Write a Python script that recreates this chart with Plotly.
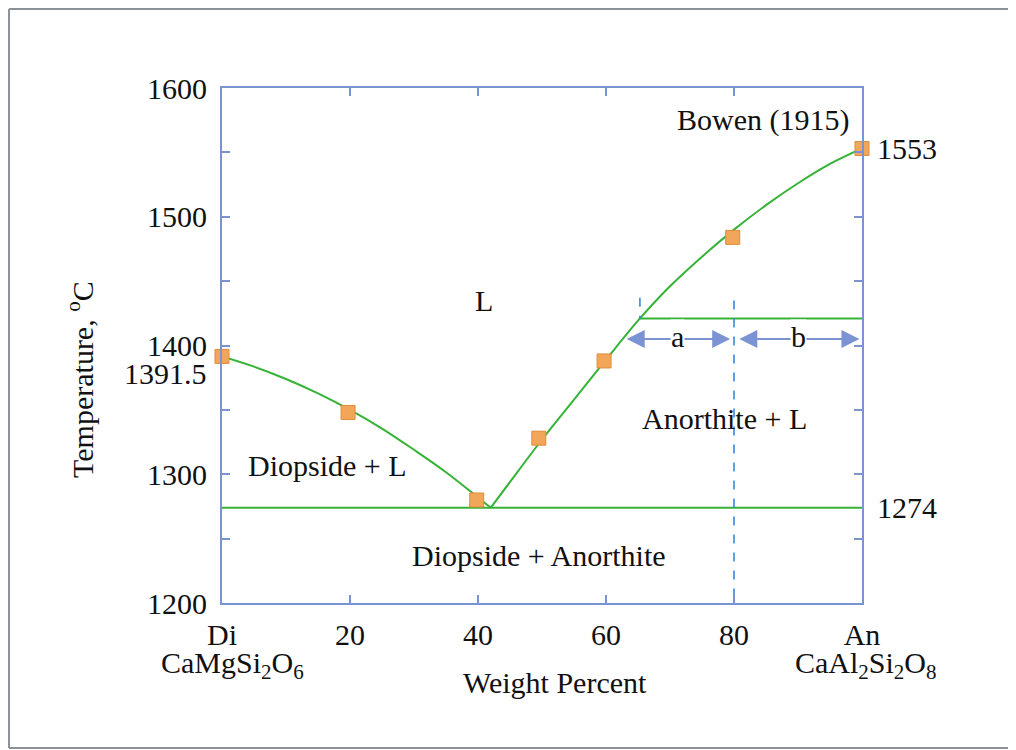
import plotly.graph_objects as go

# ---- data ----
exp_x = [0, 19.7, 39.8, 49.5, 59.7, 79.8, 100]
exp_y = [1391.5, 1348, 1280, 1328, 1388, 1484, 1553]

liq_di_x = [0, 5, 10, 15, 20, 25, 30, 35, 40, 42]
liq_di_y = [1391.5, 1383.6, 1374.0, 1362.8, 1350, 1335.5, 1319, 1301.6, 1282, 1274]

liq_an_x = [42, 45, 50, 55, 60, 65.3, 70, 75, 80, 85, 90, 95, 100]
liq_an_y = [1274, 1294, 1327, 1358, 1389, 1421, 1446, 1469, 1490, 1509, 1526, 1541, 1553]

eutectic_T = 1274
eut_x = [0, 100]
tie_x = [65.3, 100]
tie_T = 1421
bulk_x = 80
dash_bulk_y = [1435, 1200]
dash_tie_y = [1437, 1421]

x_tickvals = [0, 20, 40, 60, 80, 100]
x_ticktext = ["Di", "20", "40", "60", "80", "An"]
formulas = ["CaMgSi<sub>2</sub>O<sub>6</sub>", "CaAl<sub>2</sub>Si<sub>2</sub>O<sub>8</sub>"]
y_tickvals = [1200, 1250, 1300, 1350, 1400, 1450, 1500, 1550, 1600]
y_ticktext = ["1200", "", "1300", "", "1400", "", "1500", "", "1600"]

FONT = "Liberation Serif, Times New Roman, serif"
FS = 30
GREEN = "#36b336"
AXC = "#7b93d3"
DASHC = "#2f7fd8"
ORANGE = "#f2a65a"
TXT = "#111111"

fig = go.Figure()
fig.add_trace(go.Scatter(x=eut_x, y=[eutectic_T, eutectic_T], mode="lines",
                         line=dict(color=GREEN, width=2), hoverinfo="skip"))
fig.add_trace(go.Scatter(x=tie_x, y=[tie_T, tie_T], mode="lines",
                         line=dict(color=GREEN, width=2), hoverinfo="skip"))
fig.add_trace(go.Scatter(x=liq_di_x, y=liq_di_y, mode="lines", line_shape="spline",
                         line=dict(color=GREEN, width=2), hoverinfo="skip"))
fig.add_trace(go.Scatter(x=liq_an_x, y=liq_an_y, mode="lines", line_shape="spline",
                         line=dict(color=GREEN, width=2), hoverinfo="skip"))
fig.add_trace(go.Scatter(x=[bulk_x, bulk_x], y=dash_bulk_y, mode="lines",
                         line=dict(color=DASHC, width=1.5, dash="dash"), hoverinfo="skip"))
fig.add_trace(go.Scatter(x=[tie_x[0], tie_x[0]], y=dash_tie_y, mode="lines",
                         line=dict(color=DASHC, width=1.5, dash="dash"), hoverinfo="skip"))
fig.add_trace(go.Scatter(x=exp_x, y=exp_y, mode="markers", cliponaxis=False,
                         marker=dict(symbol="square", size=14, color=ORANGE,
                                     line=dict(color="#e08c38", width=1))))

arrow_y = 1405
arrow_a = [63.0, 79.4]
arrow_b = [80.6, 99.6]
for (x0, x1), lab in [(arrow_a, "a"), (arrow_b, "b")]:
    fig.add_annotation(x=x1, y=arrow_y, ax=x0, ay=arrow_y, xref="x", yref="y",
                       axref="x", ayref="y", text="", showarrow=True,
                       arrowside="end+start", arrowhead=2, arrowsize=1.8,
                       arrowwidth=2, arrowcolor=AXC)
    fig.add_annotation(x=(x0 + x1) / 2, y=arrow_y, text=lab, showarrow=False,
                       bgcolor="white", font=dict(family=FONT, size=FS, color=TXT),
                       borderpad=0, yshift=3)

def label(x, y, text, **kw):
    fig.add_annotation(x=x, y=y, text=text, showarrow=False,
                       font=dict(family=FONT, size=FS, color=TXT), **kw)

label(84.5, 1575, "Bowen (1915)")
label(41, 1435, "L")
label(78.5, 1343, "Anorthite + L")
label(16.5, 1307, "Diopside + L")
label(49.5, 1237, "Diopside + Anorthite")
label(0, 1391.5, "1391.5", xanchor="right", xshift=-13, yshift=-17)
label(100, 1553, "1553", xanchor="left", xshift=13)
label(100, eutectic_T, "1274", xanchor="left", xshift=13)
fig.add_annotation(x=0, y=-0.1204, xref="x", yref="paper", text=formulas[0],
                   showarrow=False, xshift=10, yanchor="middle",
                   font=dict(family=FONT, size=FS, color=TXT))
fig.add_annotation(x=100, y=-0.1204, xref="x", yref="paper", text=formulas[1],
                   showarrow=False, xshift=4, yanchor="middle",
                   font=dict(family=FONT, size=FS, color=TXT))
fig.add_annotation(x=0.52, y=-0.1534, xref="paper", yref="paper", text="Weight Percent",
                   showarrow=False, yanchor="middle",
                   font=dict(family=FONT, size=FS, color=TXT))
fig.add_annotation(x=-0.2219, y=0.435, xref="paper", yref="paper",
                   text="Temperature, <sup>o</sup>C", textangle=-90,
                   showarrow=False, xanchor="center", yanchor="middle",
                   font=dict(family=FONT, size=FS, color=TXT))

# outer frame (left, top, bottom edges; right edge runs off the page)
FRAME = dict(color="#8c9299", width=2)
fig.add_shape(type="line", xref="paper", yref="paper",
              x0=-0.3328, x1=-0.3328, y0=-0.2816, y1=1.1533, line=FRAME)
fig.add_shape(type="line", xref="paper", yref="paper",
              x0=-0.3328, x1=1.6, y0=1.1533, y1=1.1533, line=FRAME)
fig.add_shape(type="line", xref="paper", yref="paper",
              x0=-0.3328, x1=1.6, y0=-0.2816, y1=-0.2816, line=FRAME)

axis_common = dict(showline=True, linecolor=AXC, linewidth=2, mirror="ticks",
                   ticks="inside", ticklen=8, tickwidth=2, tickcolor=AXC,
                   showgrid=False, zeroline=False,
                   tickfont=dict(family=FONT, size=FS, color=TXT))
fig.update_xaxes(range=[0, 100], tickvals=x_tickvals, ticktext=x_ticktext,
                 ticklabelstandoff=4, **axis_common)
fig.update_yaxes(range=[1200, 1600], tickvals=y_tickvals, ticktext=y_ticktext,
                 ticklabelstandoff=7, **axis_common)

fig.update_layout(width=1016, height=750, showlegend=False,
                  paper_bgcolor="white", plot_bgcolor="white",
                  margin=dict(l=214, r=162, t=80, b=155, autoexpand=False))

fig.write_html("out.html", post_script="document.body.style.overflow='hidden';")
